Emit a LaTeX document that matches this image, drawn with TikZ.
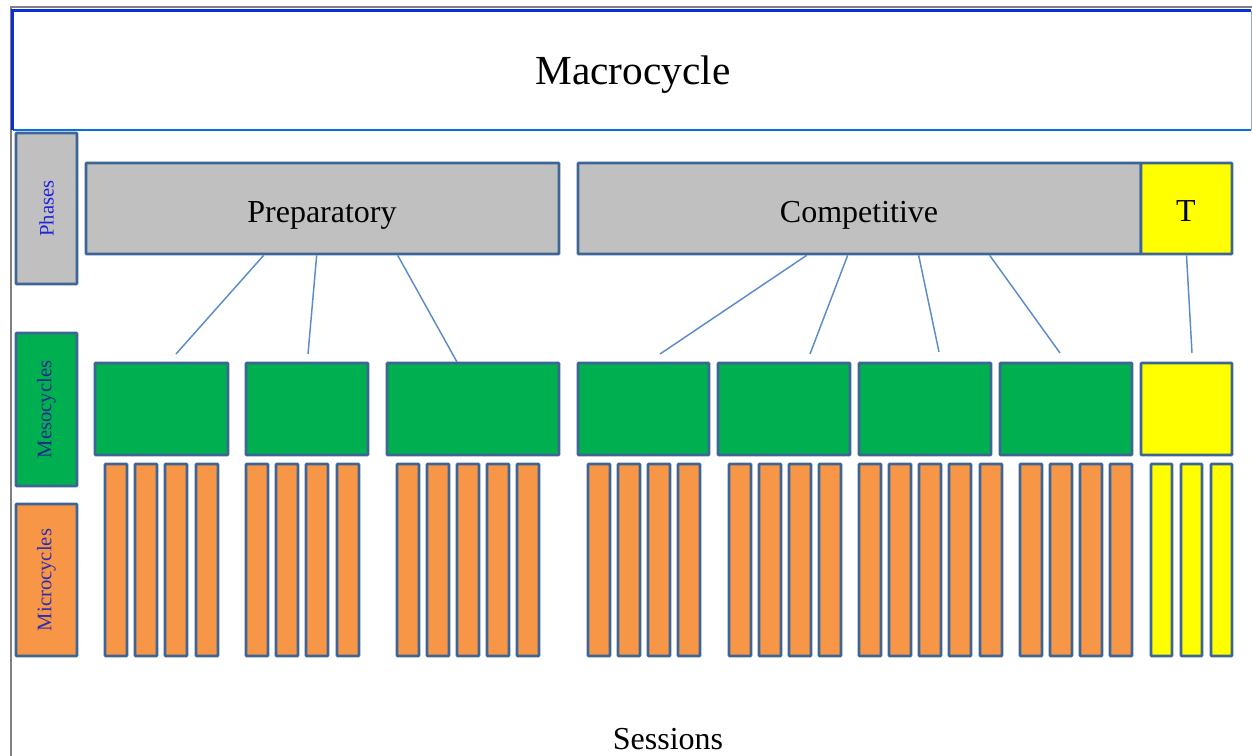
\documentclass[tikz,border=0pt]{standalone}
\usepackage{fontspec}
\setmainfont{Liberation Serif}
\definecolor{edge}{HTML}{3D6596}
\definecolor{conn}{HTML}{5B8CC8}
\definecolor{phgray}{HTML}{C0C0C0}
\definecolor{mesogreen}{HTML}{00B050}
\definecolor{microorange}{HTML}{F79646}
\definecolor{tyellow}{HTML}{FFFF00}
\definecolor{frame}{HTML}{808080}
\definecolor{topblue}{HTML}{0A2FD8}
\definecolor{thinblue}{HTML}{8FA8E8}
\definecolor{lblblue}{HTML}{2323D8}
\definecolor{lblnavy}{HTML}{1C2A88}
\definecolor{lblpurple}{HTML}{2E2EB0}
\tikzset{
  cell/.style={draw=edge, line width=2pt, rectangle, inner sep=0pt, rounded corners=0.6pt},
  phasebox/.style={cell, fill=phgray},
  mesobox/.style={cell, fill=mesogreen},
  microbar/.style={cell, fill=microorange},
  taperbox/.style={cell, fill=tyellow},
  conline/.style={draw=conn, line width=1.1pt},
  bigtxt/.style={anchor=base, inner sep=0pt, font=\fontsize{24}{28}\selectfont},
  sidetxt/.style={rotate=90, inner sep=0pt, font=\fontsize{15.5}{18}\selectfont},
}
\newcommand\mybox[7]{\node[#6, minimum width={(#4-#2)*0.75pt}, minimum height={(#5-#3)*0.75pt}] (#1) at ({(#2+#4)/2},{(#3+#5)/2}) {#7};}
\begin{document}
\begin{tikzpicture}[x=0.75pt,y=-0.75pt]
\useasboundingbox (0,0) rectangle (1252,756);
% outer frame lines
\draw[frame, line width=1.5pt] (10.5,756) -- (10.5,7.5) -- (1252,7.5);
% macrocycle box
\node[minimum width={(1251-13)*0.75pt}, minimum height={(130-11)*0.75pt}, inner sep=0pt, fill=white] (macro) at ({(13+1251)/2},{(11+130)/2}) {};
\draw[thinblue, line width=1pt] (macro.north east) -- (macro.south east);
\draw[topblue!70!cyan, line width=1.2pt] (macro.south east) -- (macro.south west);
\draw[topblue, line width=2.6pt] (macro.south west) -- (macro.north west) -- (macro.north east);
\node[anchor=base, inner sep=0pt, font=\fontsize{31}{36}\selectfont] (macrotxt) at (633,85) {Macrocycle};

% side labels
\mybox{lphases}{16}{133}{77}{284}{phasebox}{}
\mybox{lmeso}{16}{333}{77}{486}{mesobox}{}
\mybox{lmicro}{16}{504}{77}{656}{microbar}{}
\node[sidetxt, text=lblblue] (tphases) at (lphases.center) {Phases};
\node[sidetxt, text=lblnavy] (tmeso) at (lmeso.center) {Mesocycles};
\node[sidetxt, text=lblpurple] (tmicro) at (lmicro.center) {Microcycles};

% phases
\mybox{prep}{86}{163}{559}{254}{phasebox}{}
\mybox{comp}{578}{163}{1141}{254}{phasebox}{}
\mybox{taper}{1141}{163}{1232}{254}{taperbox}{}
\node[bigtxt] (preptxt) at (322,222) {Preparatory};
\node[bigtxt] (comptxt) at (859,222) {Competitive};
\node[bigtxt] (tapertxt) at (1186,221) {T};

% mesocycles
\mybox{m1}{95}{363}{228}{455}{mesobox}{}
\mybox{m2}{246}{363}{368}{455}{mesobox}{}
\mybox{m3}{387}{363}{559}{455}{mesobox}{}
\mybox{m4}{578}{363}{709}{455}{mesobox}{}
\mybox{m5}{718}{363}{850}{455}{mesobox}{}
\mybox{m6}{859}{363}{991}{455}{mesobox}{}
\mybox{m7}{1000}{363}{1132}{455}{mesobox}{}
\mybox{m8}{1141}{363}{1232}{455}{taperbox}{}

% microcycles
\foreach \x [count=\i] in {105,135,165,196, 246,276,306,337, 397,427,457,487,517, 588,618,648,678, 729,759,789,819, 859,889,919,949,980, 1020,1050,1080,1110}{
  \mybox{mc\i}{\x}{464}{\x+22}{656}{microbar}{}
}
\foreach \x [count=\i] in {1151,1181,1211}{
  \mybox{tc\i}{\x}{464}{\x+21}{656}{taperbox}{}
}

% connectors
\coordinate (pa1) at ([xshift={(265-86)*0.75pt}]prep.south west);
\coordinate (pa2) at ([xshift={(318-86)*0.75pt}]prep.south west);
\coordinate (pa3) at ([xshift={(399-86)*0.75pt}]prep.south west);
\coordinate (ea1) at (176,354);
\coordinate (ea2) at (308,354);
\coordinate (ea3) at (457,362);
\draw[conline] (pa1) -- (ea1);
\draw[conline] (pa2) -- (ea2);
\draw[conline] (pa3) -- (ea3);
\coordinate (ca1) at ([xshift={(808-578)*0.75pt}]comp.south west);
\coordinate (ca2) at ([xshift={(849-578)*0.75pt}]comp.south west);
\coordinate (ca3) at ([xshift={(920-578)*0.75pt}]comp.south west);
\coordinate (ca4) at ([xshift={(991-578)*0.75pt}]comp.south west);
\coordinate (eb1) at (660,354);
\coordinate (eb2) at (810,354);
\coordinate (eb3) at (939,352);
\coordinate (eb4) at (1060,353);
\draw[conline] (ca1) -- (eb1);
\draw[conline] (ca2) -- (eb2);
\draw[conline] (ca3) -- (eb3);
\draw[conline] (ca4) -- (eb4);
\coordinate (ta1) at (taper.south);
\coordinate (ec1) at (1192,353);
\draw[conline] (ta1) -- (ec1);

\node[bigtxt] (sessions) at (668,749) {Sessions};
\end{tikzpicture}
\end{document}
